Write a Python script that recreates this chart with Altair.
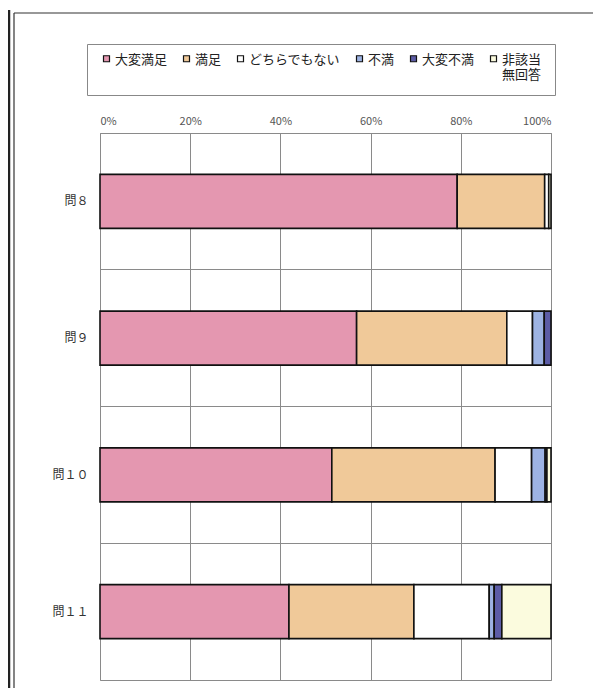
import altair as alt
import pandas as pd

questions = ["問８", "問９", "問１０", "問１１"]
categories = ["大変満足", "満足", "どちらでもない", "不満", "大変不満", "非該当無回答"]
colors = ["#E497B0", "#F0C999", "#FFFFFF", "#9DB3E3", "#5C5CA6", "#FBFBDE"]

q8 = [79.2, 19.4, 0.9, 0.0, 0.0, 0.5]
q9 = [56.9, 33.3, 5.7, 2.6, 1.5, 0.0]
q10 = [51.4, 36.2, 8.1, 3.0, 0.4, 0.9]
q11 = [41.9, 27.7, 16.7, 1.1, 1.7, 10.9]
series = [q8, q9, q10, q11]

rows = []
for q, vals in zip(questions, series):
    for i, (c, v) in enumerate(zip(categories, vals)):
        if v > 0:
            rows.append({"q": q, "cat": c, "v": v, "o": i})
df = pd.DataFrame(rows)

FONT = "Noto Sans CJK JP"
# square symbol raised so it sits beside the first text line
RAISED_SQUARE = "M-1,-2.67H1V-0.67H-1Z"

bars = alt.Chart(df).mark_bar(size=54, stroke="#111", strokeWidth=1.6).encode(
    x=alt.X("v:Q", stack="normalize",
            scale=alt.Scale(domain=[0, 1]),
            axis=alt.Axis(orient="top", format="%", values=[0, 0.2, 0.4, 0.6, 0.8, 1.0],
                          title=None, ticks=False, domain=False, labelPadding=7,
                          labelFontSize=11, labelColor="#555", labelFont=FONT,
                          grid=True, gridColor="#8a8a8a", gridWidth=1)),
    y=alt.Y("q:N", sort=questions,
            scale=alt.Scale(paddingInner=0, paddingOuter=0),
            axis=alt.Axis(title=None, ticks=False, domain=False, labelPadding=12,
                          labelFontSize=12, labelColor="#333", labelFont=FONT,
                          grid=True, bandPosition=0, gridColor="#8a8a8a", gridWidth=1)),
    color=alt.Color("cat:N", sort=categories,
                    scale=alt.Scale(domain=categories, range=colors),
                    legend=alt.Legend(
                        orient="none", legendX=-13, legendY=-89, direction="horizontal",
                        columns=6, title=None, strokeColor="#888", padding=13,
                        labelFontSize=13, labelFont=FONT, labelColor="#222",
                        labelBaseline="alphabetic",
                        labelExpr="datum.label == '非該当無回答' ? ['非該当', '無回答'] : [datum.label, ' ']",
                        symbolType=RAISED_SQUARE, symbolSize=36, symbolStrokeColor="#111",
                        symbolStrokeWidth=1.2, columnPadding=12, labelOffset=2,
                        fillColor="white")),
    order=alt.Order("o:Q"),
)

frame_data = alt.Data(values=[{"a": 1}])
thin_left = alt.Chart(frame_data).mark_rule(color="#333", strokeWidth=1.2).encode(
    x=alt.value(-86), y=alt.value(-120), y2=alt.value(560))
thick_left = alt.Chart(frame_data).mark_rule(color="#222", strokeWidth=2.5).encode(
    x=alt.value(-91), y=alt.value(-123), y2=alt.value(560))
top_line = alt.Chart(frame_data).mark_rule(color="#333", strokeWidth=1.2).encode(
    x=alt.value(-86), x2=alt.value(500), y=alt.value(-120))

chart = alt.layer(bars, thin_left, thick_left, top_line).properties(
    width=451, height=547,
    autosize=alt.AutoSizeParams(type="none"),
    padding={"left": 92, "top": 125, "right": 42, "bottom": 8},
).configure_view(stroke="#8a8a8a", strokeWidth=1)

chart.save("out.html", embed_options={"renderer": "svg", "actions": False})
